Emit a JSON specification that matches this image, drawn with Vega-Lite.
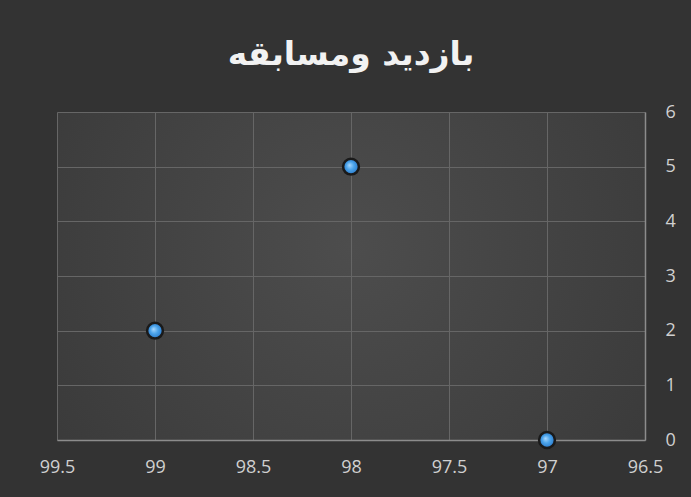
{
  "$schema": "https://vega.github.io/schema/vega-lite/v6.json",
  "width": 588,
  "height": 328,
  "autosize": {"type": "none"},
  "padding": {"left": 57, "top": 112, "right": 46, "bottom": 57},
  "background": "#333333",
  "title": {
    "text": "بازدید ومسابقه",
    "font": "DejaVu Sans",
    "fontSize": 33,
    "fontWeight": "bold",
    "color": "#f2f2f2",
    "anchor": "middle",
    "offset": 31
  },
  "config": {
    "view": {
      "stroke": null,
      "fill": {
        "gradient": "radial",
        "x1": 0.5, "y1": 0.45, "r1": 0,
        "x2": 0.5, "y2": 0.45, "r2": 0.75,
        "stops": [
          {"offset": 0, "color": "#4d4d4d"},
          {"offset": 1, "color": "#363636"}
        ]
      }
    },
    "axis": {
      "labelFont": "Open Sans",
      "labelFontSize": 18,
      "labelColor": "#d0d0d0",
      "gridColor": "#666666",
      "gridWidth": 1,
      "ticks": false,
      "domainColor": "#8c8c8c",
      "domainWidth": 1.5,
      "title": null
    }
  },
  "data": {
    "values": [
      {"x": 99, "y": 2},
      {"x": 98, "y": 5},
      {"x": 97, "y": 0}
    ]
  },
  "mark": {
    "type": "point",
    "filled": true,
    "size": 250,
    "stroke": "#1a1a1a",
    "strokeWidth": 2.5,
    "strokeOpacity": 1,
    "opacity": 1,
    "color": {
      "gradient": "radial",
      "x1": 0.4, "y1": 0.4, "r1": 0,
      "x2": 0.5, "y2": 0.5, "r2": 0.5,
      "stops": [
        {"offset": 0, "color": "#a8d8ff"},
        {"offset": 0.5, "color": "#4aa3ea"},
        {"offset": 1, "color": "#2a78c8"}
      ]
    }
  },
  "encoding": {
    "x": {
      "field": "x",
      "type": "quantitative",
      "scale": {"domain": [96.5, 99.5], "reverse": true, "nice": false, "zero": false},
      "axis": {
        "values": [96.5, 97, 97.5, 98, 98.5, 99, 99.5],
        "format": "~g",
        "labelPadding": 18,
        "domain": true,
        "labelFlush": false
      }
    },
    "y": {
      "field": "y",
      "type": "quantitative",
      "scale": {"domain": [0, 6], "nice": false},
      "axis": {
        "orient": "right",
        "values": [0, 1, 2, 3, 4, 5, 6],
        "labelPadding": 20,
        "labelFlush": false
      }
    }
  }
}
